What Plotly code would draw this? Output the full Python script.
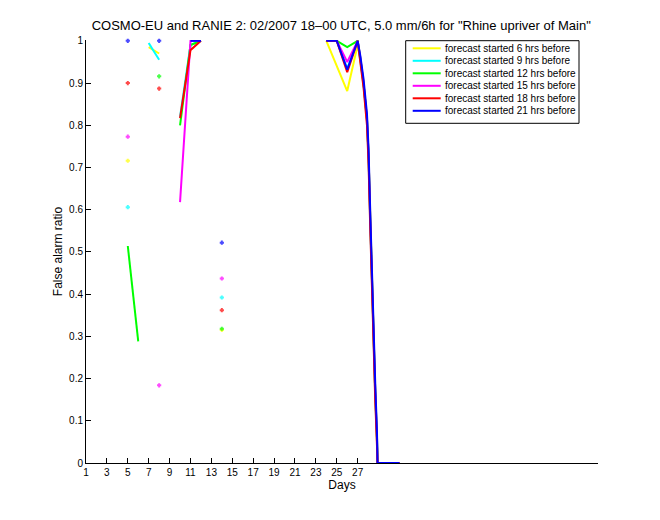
import plotly.graph_objects as go

# ---------------- data ----------------
N = None
series_names = [
    "forecast started 6 hrs before",
    "forecast started 9 hrs before",
    "forecast started 12 hrs before",
    "forecast started 15 hrs before",
    "forecast started 18 hrs before",
    "forecast started 21 hrs before",
]
series_colors = ["#ffff00", "#00ffff", "#00ff00", "#ff00ff", "#ff0000", "#0000ff"]

# tail of the month (day 27 -> steep drop -> 0 until day 31)
drop_days = [27.25, 27.56, 27.89, 28.04, 28.2, 28.37, 28.52, 28.68, 28.85, 28.9, 31]

yellow_x = [5, N, 7, 8, N, 14, N, 24, 25, 26, 27] + drop_days
yellow_y = [0.716, N, 0.985, 0.970, N, 0.315, N, 1.0, 0.94, 0.881, 0.99,
            0.955, 0.90, 0.815, 0.73, 0.58, 0.42, 0.29, 0.17, 0.05, 0.0, 0.0]

cyan_x = [5, N, 7, 8, N, 10, 11, 12, N, 14, N, 24, 25, 26, 27] + drop_days
cyan_y = [0.606, N, 0.995, 0.955, N, 0.82, 0.99, 1.0, N, 0.392, N, 1.0, 1.0, 0.935, 1.0,
          0.955, 0.895, 0.81, 0.72, 0.57, 0.41, 0.28, 0.16, 0.05, 0.0, 0.0]

green_x = [5, 6, N, 8, N, 10, 11, 12, N, 14, N, 24, 25, 26, 27] + drop_days
green_y = [0.514, 0.288, N, 0.916, N, 0.80, 0.99, 1.0, N, 0.318, N, 1.0, 1.0, 0.985, 1.0,
           0.96, 0.90, 0.815, 0.73, 0.58, 0.42, 0.29, 0.17, 0.06, 0.0, 0.0]

magenta_x = [5, N, 8, N, 10, 11, 12, N, 14, N, 24, 25, 26, 27] + drop_days
magenta_y = [0.773, N, 0.184, N, 0.618, 1.0, 1.0, N, 0.437, N, 1.0, 1.0, 0.95, 1.0,
             0.96, 0.90, 0.815, 0.73, 0.58, 0.42, 0.29, 0.17, 0.06, 0.0, 0.0]

red_x = [5, N, 8, N, 10, 11, 12, N, 14, N, 24, 25, 26, 27] + drop_days
red_y = [0.90, N, 0.887, N, 0.817, 0.978, 1.0, N, 0.362, N, 1.0, 1.0, 0.926, 1.0,
         0.95, 0.89, 0.80, 0.71, 0.56, 0.40, 0.27, 0.15, 0.04, 0.0, 0.0]

blue_x = [5, N, 8, N, 11, 12, N, 14, N, 24, 25, 26, 27] + drop_days
blue_y = [1.0, N, 1.0, N, 1.0, 1.0, N, 0.522, N, 1.0, 1.0, 0.932, 1.0,
          0.965, 0.910, 0.827, 0.745, 0.598, 0.44, 0.307, 0.189, 0.071, 0.0, 0.0]

xs = [yellow_x, cyan_x, green_x, magenta_x, red_x, blue_x]
ys = [yellow_y, cyan_y, green_y, magenta_y, red_y, blue_y]

x_ticks = list(range(1, 28, 2))
y_ticks = [0, 0.1, 0.2, 0.3, 0.4, 0.5, 0.6, 0.7, 0.8, 0.9, 1]
y_tick_labels = ["0", "0.1", "0.2", "0.3", "0.4", "0.5", "0.6", "0.7", "0.8", "0.9", "1"]

title_text = 'COSMO-EU and RANIE 2: 02/2007 18\u201300 UTC, 5.0 mm/6h for "Rhine upriver of Main"'

# ---------------- figure ----------------
FONT = "Liberation Sans, Arial, Helvetica, sans-serif"
W, H = 660, 520
ML, MR, MT, MB = 86, 62, 40, 57
PW, PH = W - ML - MR, H - MT - MB


def isolated_sizes(y):
    """marker only where a value has no neighbour to connect to"""
    out = []
    for i, v in enumerate(y):
        prev_ok = i > 0 and y[i - 1] is not None
        next_ok = i < len(y) - 1 and y[i + 1] is not None
        out.append(3 if (v is not None and not prev_ok and not next_ok) else 0)
    return out


fig = go.Figure()
for name, col, x, y in zip(series_names, series_colors, xs, ys):
    fig.add_trace(go.Scatter(
        x=x, y=y, name=name, mode="lines+markers",
        line=dict(color=col, width=2),
        marker=dict(color=col, size=isolated_sizes(y), symbol="cross-thin",
                    line=dict(color=col, width=2)),
        connectgaps=False, showlegend=False, cliponaxis=False,
    ))


def px(xp):
    return (xp - ML) / PW


def py(yp):
    return (H - MB - yp) / PH


# custom MATLAB-like legend
shapes = [dict(type="rect", xref="paper", yref="paper",
               x0=px(405.7), x1=px(579), y0=py(123.3), y1=py(40.7),
               line=dict(color="black", width=1), fillcolor="white", layer="above")]
annotations = []
row_y = [48.3, 60.8, 73.3, 85.8, 98.3, 110.8]
for name, col, ry in zip(series_names, series_colors, row_y):
    shapes.append(dict(type="line", xref="paper", yref="paper",
                       x0=px(412.7), x1=px(440.7), y0=py(ry), y1=py(ry),
                       line=dict(color=col, width=2), layer="above"))
    annotations.append(dict(xref="paper", yref="paper", x=px(442.5), y=py(ry),
                            xanchor="left", yanchor="middle", showarrow=False,
                            text=name, font=dict(family=FONT, size=10, color="black")))

fig.update_layout(
    width=W, height=H,
    margin=dict(l=ML, r=MR, t=MT, b=MB, pad=0),
    paper_bgcolor="white", plot_bgcolor="white",
    font=dict(family=FONT, size=10, color="black"),
    title=dict(text=title_text, x=0.517, xanchor="center", y=1 - 25 / H, yanchor="middle",
               font=dict(family=FONT, size=13, color="black")),
    xaxis=dict(range=[1, 50], tickmode="array", tickvals=x_ticks,
               ticks="inside", ticklen=5, tickcolor="black", tickwidth=1,
               showline=True, linecolor="black", linewidth=1, mirror=False,
               showgrid=False, zeroline=False,
               title=dict(text="Days", standoff=2, font=dict(family=FONT, size=12))),
    yaxis=dict(range=[0, 1.002], tickmode="array", tickvals=y_ticks, ticktext=y_tick_labels,
               ticks="inside", ticklen=5, tickcolor="black", tickwidth=1,
               showline=True, linecolor="black", linewidth=1, mirror=False,
               showgrid=False, zeroline=False,
               title=dict(text="False alarm ratio", standoff=3, font=dict(family=FONT, size=12))),
    shapes=shapes, annotations=annotations,
)

fig.write_html("out.html")
